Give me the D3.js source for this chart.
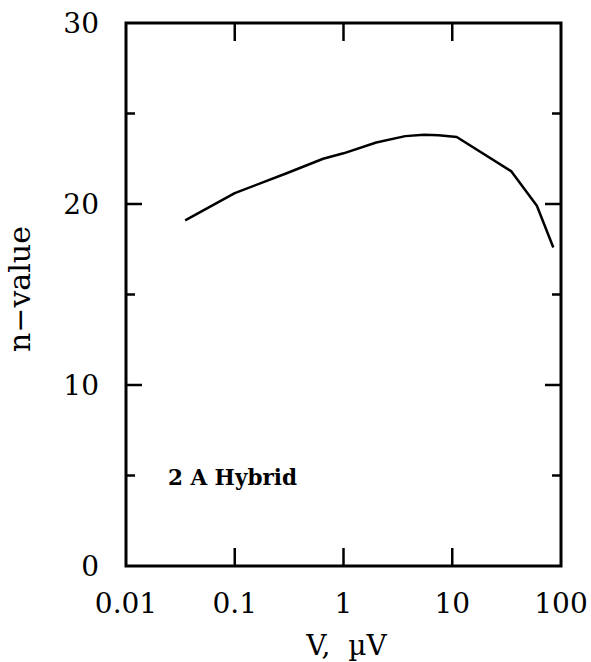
<!DOCTYPE html>
<html>
<head>
<meta charset="utf-8">
<script src="https://cdn.jsdelivr.net/npm/d3@7"></script>
<style>
body { margin: 0; background: #fff; }
svg text { font-family: "DejaVu Serif", serif; fill: #000; }
</style>
</head>
<body>
<svg width="591" height="662"></svg>
<script>
var margin = {top: 23, right: 30, bottom: 96, left: 126};
var width = 591 - margin.left - margin.right;
var height = 662 - margin.top - margin.bottom;

// data
var voltage = [0.035, 0.1, 0.3, 0.65, 1, 2, 3.7, 5.5, 7.5, 11, 35, 60, 85];
var nValue = [19.1, 20.6, 21.7, 22.5, 22.8, 23.4, 23.75, 23.82, 23.8, 23.7, 21.8, 19.9, 17.6];
var xTicks = [0.01, 0.1, 1, 10, 100];
var xTickLabels = ["0.01", "0.1", "1", "10", "100"];
var yTicks = [0, 10, 20, 30];
var yMinor = [5, 15, 25];

var xScale = d3.scaleLog().domain([0.01, 100]).range([0, width]);
var yScale = d3.scaleLinear().domain([0, 30]).range([height, 0]);

var svg = d3.select('svg')
  .append('g')
  .attr('transform', 'translate(' + margin.left + ',' + margin.top + ')');

// frame
svg.append('rect')
  .attr('x', 0).attr('y', 0)
  .attr('width', width).attr('height', height)
  .attr('fill', 'none').attr('stroke', '#000').attr('stroke-width', 3);

// ticks, pointing inward on all four sides
var tickGroup = svg.append('g').attr('stroke', '#000').attr('stroke-width', 2.5);

xTicks.slice(1, -1).forEach(function(t) {
  tickGroup.append('line')
    .attr('x1', xScale(t)).attr('x2', xScale(t))
    .attr('y1', height).attr('y2', height - 18);
  tickGroup.append('line')
    .attr('x1', xScale(t)).attr('x2', xScale(t))
    .attr('y1', 0).attr('y2', 18);
});

yTicks.slice(1, -1).forEach(function(t) {
  tickGroup.append('line')
    .attr('x1', 0).attr('x2', 16)
    .attr('y1', yScale(t)).attr('y2', yScale(t));
  tickGroup.append('line')
    .attr('x1', width).attr('x2', width - 16)
    .attr('y1', yScale(t)).attr('y2', yScale(t));
});

yMinor.forEach(function(t) {
  tickGroup.append('line')
    .attr('x1', 0).attr('x2', 9)
    .attr('y1', yScale(t)).attr('y2', yScale(t));
  tickGroup.append('line')
    .attr('x1', width).attr('x2', width - 9)
    .attr('y1', yScale(t)).attr('y2', yScale(t));
});

// tick labels
svg.selectAll('.xlab')
  .data(xTicks)
  .enter()
  .append('text')
  .attr('class', 'xlab')
  .attr('x', d => xScale(d))
  .attr('y', height + 47)
  .attr('text-anchor', 'middle')
  .style('font-size', '28px')
  .text((d, i) => xTickLabels[i]);

svg.selectAll('.ylab')
  .data(yTicks)
  .enter()
  .append('text')
  .attr('class', 'ylab')
  .attr('x', -27)
  .attr('y', d => yScale(d))
  .attr('dy', '0.36em')
  .attr('text-anchor', 'end')
  .style('font-size', '28px')
  .text(d => d);

// axis titles
svg.append('text')
  .attr('x', width / 2 + 3)
  .attr('y', height + 89)
  .attr('text-anchor', 'middle')
  .style('font-size', '28px')
  .style('white-space', 'pre')
  .text('V,  \u00b5V');

svg.append('text')
  .attr('transform', 'translate(' + (-margin.left + 30) + ',' + (yScale(15.3)) + ') rotate(-90)')
  .attr('text-anchor', 'middle')
  .style('font-size', '30px')
  .text('n\u2212value');

// curve
var line = d3.line()
  .x((d, i) => xScale(voltage[i]))
  .y(d => yScale(d));

svg.append('path')
  .datum(nValue)
  .attr('d', line)
  .attr('fill', 'none')
  .attr('stroke', '#000')
  .attr('stroke-width', 2.5)
  .attr('stroke-linejoin', 'round');

// label
svg.append('text')
  .attr('x', 168 - margin.left)
  .attr('y', 485 - margin.top)
  .style('font-size', '21.5px')
  .style('font-weight', 'bold')
  .text('2 A Hybrid');
</script>
</body>
</html>
